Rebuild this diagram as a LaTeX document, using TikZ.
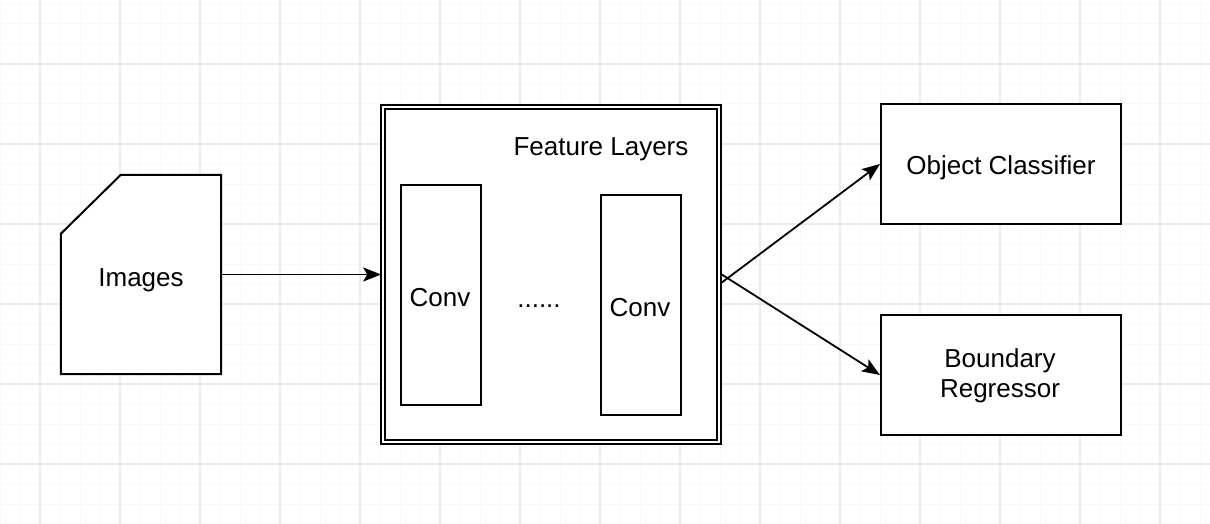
\documentclass[tikz,border=0pt]{standalone}
\usepackage{fontspec}
\setmainfont{Liberation Sans}
\usetikzlibrary{arrows.meta}
\begin{document}
\begin{tikzpicture}[x=1pt,y=-1pt,
  minorgrid/.style={draw=black!2.5,line width=1pt},
  majorgrid/.style={draw=black!8,line width=1.6pt},
  box/.style={draw=black,line width=2pt,fill=white,inner sep=0pt},
  label/.style={font=\fontsize{26}{30}\selectfont,align=center,inner sep=0pt,anchor=base},
  conn/.style={draw=black,line width=1.8pt,-{Stealth[length=18pt,width=14pt,inset=4pt]}}]
\useasboundingbox (0,0) rectangle (1210,524);
\fill[white] (0,0) rectangle (1210,524);
\foreach \x in {0,20,...,1200} \draw[minorgrid] (\x,0) -- (\x,524);
\foreach \y in {4,24,...,524} \draw[minorgrid] (0,\y) -- (1210,\y);
\foreach \x in {40,120,...,1200} \draw[majorgrid] (\x,0) -- (\x,524);
\foreach \y in {64,144,...,524} \draw[majorgrid] (0,\y) -- (1210,\y);

% Images card
\node[inner sep=0pt,minimum width=160pt,minimum height=199pt] (img) at (141,274.5) {};
\draw[line width=2pt,fill=white,line join=miter]
  ([shift={(60,0)}]img.north west) -- (img.north east) -- (img.south east)
  -- (img.south west) -- ([shift={(0,59)}]img.north west) -- cycle;
\node[label] (imgtext) at (141,286) {Images};

% Feature layers
\node[box,double,line width=1.6pt,double distance=2.4pt,minimum width=336pt,minimum height=335pt] (feat) at (551,274.5) {};
\node[label] (feattitle) at (601,156) {Feature Layers};
\node[box,minimum width=80pt,minimum height=220pt] (conv1) at (441,295) {};
\node[label] (conv1t) at (440,306) {Conv};
\node[box,minimum width=80pt,minimum height=220pt] (conv2) at (641,305) {};
\node[label] (conv2t) at (640,316) {Conv};
\node[label] (dots) at (539,307) {......};

% Outputs
\node[box,minimum width=240pt,minimum height=120pt] (obj) at (1001,164) {};
\node[label] (objt) at (1001,175) {Object Classifier};
\node[box,minimum width=240pt,minimum height=120pt] (bnd) at (1001,375) {};
\node[label] (bndt) at (1000,397) {Boundary\\Regressor};

% Connectors
\coordinate (s1) at ([shift={(2,8)}]feat.east);
\coordinate (s2) at ([shift={(2,0)}]feat.east);
\draw[conn] (img.east) -- ([xshift=-1pt]feat.west);
\draw[conn] (s1) -- (obj.west);
\draw[conn] (s2) -- (bnd.west);
\end{tikzpicture}
\end{document}
